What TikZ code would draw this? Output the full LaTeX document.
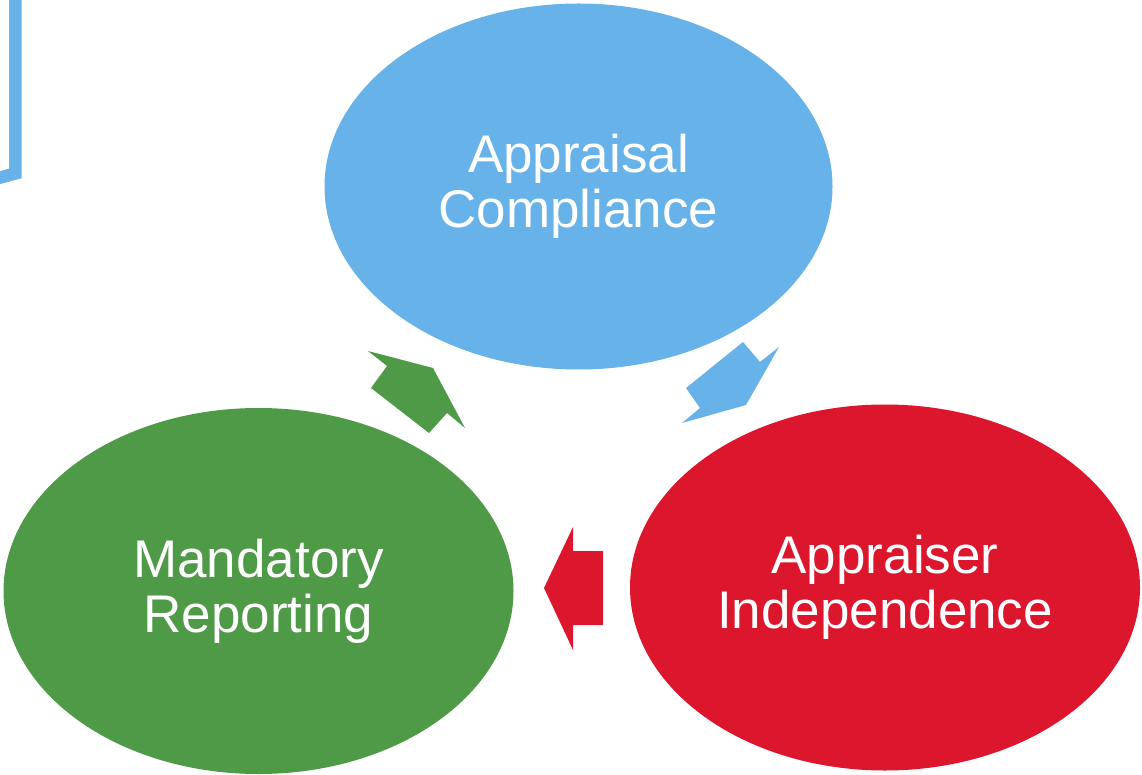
\documentclass[tikz,border=0pt]{standalone}
\usepackage{fontspec}
\setmainfont{Liberation Sans}
\usetikzlibrary{shapes.geometric}

\definecolor{cycleblue}{HTML}{67B2E8}
\definecolor{cyclegreen}{HTML}{4F9A46}
\definecolor{cyclered}{HTML}{DC172D}

\tikzset{
  phase/.style={ellipse, draw=none, inner sep=0pt, text=white, align=center,
    minimum width=508pt, minimum height=366pt,
    font=\fontsize{53}{55}\selectfont},
  blockarrow/.style={draw=none}
}

\begin{document}
\begin{tikzpicture}[x=1pt, y=-1pt]
  \useasboundingbox (0,0) rectangle (1142,775);
  \clip (0,0) rectangle (1142,775);

  % partial frame at the top-left edge
  \draw[cycleblue, line width=12.5pt, miter limit=10]
    (15.3,-30) -- (15.3,173.5) -- (-40,188.5);

  % the three phases
  \node[phase, fill=cycleblue]  (compliance)   at (578.5,186.5) {Appraisal\\Compliance};
  \node[phase, fill=cyclered, minimum width=510pt]   (independence) at (885,587.5) {Appraiser\\Independence};
  \node[phase, fill=cyclegreen, minimum width=510pt] (reporting)    at (258.5,591)  {Mandatory\\Reporting};

  % block arrows running round the cycle
  \fill[blockarrow, cycleblue]
    (743,342) -- (760,362) -- (779,347) -- (746,405) -- (682,423) -- (700,408) -- (686,388) -- cycle;
  \fill[blockarrow, cyclered]
    (544,588) -- (573,527) -- (573,551) -- (603,551) -- (603,625) -- (573,625) -- (573,650) -- cycle;
  \fill[blockarrow, cyclegreen]
    (368,351) -- (433,368) -- (465,428) -- (447,413) -- (429,433) -- (371,388) -- (387,366) -- cycle;
\end{tikzpicture}
\end{document}
